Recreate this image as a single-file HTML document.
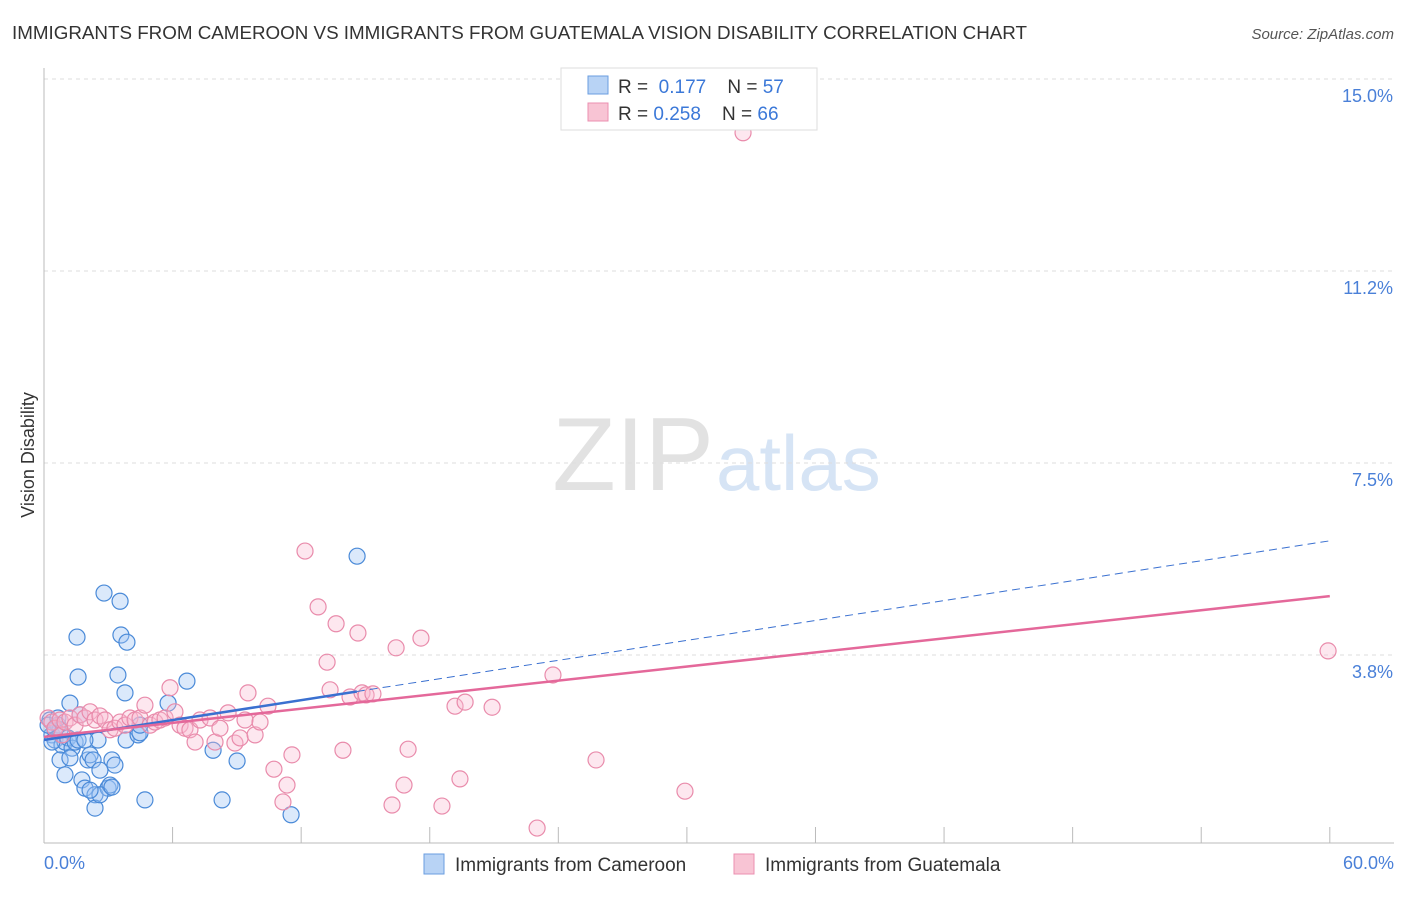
<!DOCTYPE html>
<html><head><meta charset="utf-8"><style>
body{margin:0;background:#fff;font-family:"Liberation Sans",sans-serif;}
svg text{font-family:"Liberation Sans",sans-serif;}
</style></head><body>
<svg width="1406" height="892" viewBox="0 0 1406 892">
<text x="12" y="39" font-size="18.8" fill="#333">IMMIGRANTS FROM CAMEROON VS IMMIGRANTS FROM GUATEMALA VISION DISABILITY CORRELATION CHART</text>
<text x="1394" y="39" font-size="15" fill="#555" font-style="italic" text-anchor="end">Source: ZipAtlas.com</text>
<text x="714" y="490" font-size="104" fill="#e2e2e2" text-anchor="end" font-family="Liberation Serif">ZIP</text>
<text x="716" y="490" font-size="78" fill="#d6e4f5">atlas</text>
<g id="grid"></g><g id="axes"></g><g id="marks"></g>
<text transform="translate(34,455) rotate(-90)" font-size="18" fill="#333" text-anchor="middle">Vision Disability</text>
<text x="44" y="869" font-size="18" fill="#4a80d8">0.0%</text>
<text x="1394" y="869" font-size="18" fill="#4a80d8" text-anchor="end">60.0%</text>
<g>
<rect x="561" y="68" width="256" height="62" fill="#fff" stroke="#ddd"/>
<rect x="588" y="76" width="20" height="18" fill="#b8d3f5" stroke="#6a9ee0"/>
<rect x="588" y="103" width="20" height="18" fill="#f8c4d4" stroke="#eb8fb0"/>
<text x="618" y="93" font-size="19" fill="#333">R = <tspan fill="#3b78d8">&#160;0.177</tspan>&#160;&#160;&#160; N = <tspan fill="#3b78d8">57</tspan></text>
<text x="618" y="120" font-size="19" fill="#333">R = <tspan fill="#3b78d8">0.258</tspan>&#160;&#160;&#160; N = <tspan fill="#3b78d8">66</tspan></text>
</g>
<g>
<rect x="424" y="854" width="20" height="20" fill="#b8d3f5" stroke="#6a9ee0"/>
<text x="455" y="871" font-size="19" fill="#333">Immigrants from Cameroon</text>
<rect x="734" y="854" width="20" height="20" fill="#f8c4d4" stroke="#eb8fb0"/>
<text x="765" y="871" font-size="19" fill="#333">Immigrants from Guatemala</text>
</g>
</svg>
<script>
const yTicks=[15.0,11.25,7.5,3.75];
const yTickLabels=["15.0%","11.2%","7.5%","3.8%"];
const xTicks=[0,6,12,18,24,30,36,42,48,54,60];
const blueX=[0.28,0.37,0.51,0.65,0.75,0.84,0.98,1.12,1.21,1.31,1.45,1.59,1.54,1.59,1.68,1.77,1.91,2.05,2.15,2.29,2.38,2.52,2.61,2.80,2.99,3.08,3.17,3.31,3.45,3.55,3.59,3.78,3.83,3.87,4.39,4.48,4.71,5.79,6.67,7.89,8.31,9.01,11.53,14.61,2.38,0.75,0.98,1.21,0.51,0.19,0.37,1.91,2.61,3.17,2.15,4.48,0.65];
const blueY=[2.48,2.19,2.09,2.38,2.29,1.99,2.05,2.13,2.81,1.93,2.05,2.09,4.10,3.32,2.58,1.31,1.15,1.70,1.80,1.70,1.02,2.09,1.50,4.96,1.15,1.21,1.70,1.60,3.36,4.80,4.14,3.01,2.09,4.00,2.19,2.23,0.92,2.81,3.24,1.89,0.92,1.68,0.63,5.68,0.76,1.70,1.41,1.74,2.29,2.38,2.05,2.09,1.02,1.17,1.11,2.38,2.52];
const pinkX=[0.19,0.37,0.51,0.75,0.84,0.98,1.21,1.45,1.68,1.91,2.15,2.38,2.61,2.85,3.08,3.31,3.55,3.78,4.01,4.25,4.48,4.71,4.95,5.18,5.41,5.65,5.88,6.11,6.35,6.58,6.81,7.05,7.28,7.75,7.98,8.21,8.59,8.91,9.15,9.38,9.52,9.85,10.08,10.45,10.73,11.15,11.34,11.57,12.18,12.79,13.21,13.35,13.63,13.95,14.28,14.65,14.84,15.03,15.35,16.24,16.43,16.80,16.99,17.59,18.57,19.18,19.41,19.65,20.91,23.01,23.75,25.76,29.91,32.62,59.92];
const pinkY=[2.52,2.44,2.32,2.48,2.19,2.44,2.52,2.38,2.58,2.52,2.64,2.48,2.56,2.48,2.29,2.32,2.44,2.38,2.52,2.48,2.52,2.77,2.38,2.44,2.48,2.52,3.11,2.64,2.38,2.32,2.29,2.05,2.48,2.52,2.05,2.32,2.62,2.03,2.13,2.48,3.01,2.19,2.44,2.75,1.52,0.88,1.21,1.80,5.78,4.69,3.61,3.07,4.36,1.89,2.93,4.18,3.01,2.97,2.99,0.82,3.89,1.21,1.91,4.08,0.80,2.75,1.33,2.83,2.73,0.37,3.36,1.70,1.09,13.95,3.83];
const blueTrend=[2.09,5.98];
const pinkTrend=[2.15,4.90];
const blueSolidEnd=14.6;
const NS="http://www.w3.org/2000/svg";
const xs=v=>44+v*21.43;
const ys=v=>847-v*51.2;
function mk(tag,attrs,parent){const e=document.createElementNS(NS,tag);for(const k in attrs)e.setAttribute(k,attrs[k]);parent.appendChild(e);return e;}
const grid=document.getElementById('grid'),axes=document.getElementById('axes'),marks=document.getElementById('marks');
yTicks.forEach((t,i)=>{
 const l=mk('line',{x1:44,x2:1394,y1:ys(t),y2:ys(t),stroke:'#ddd','stroke-dasharray':'4,4'},grid);
 
 
 const tx=mk('text',{x:1393,y:ys(t)+23,'font-size':18,fill:'#4a80d8','text-anchor':'end'},grid);
 tx.textContent=yTickLabels[i];
 
 
});
const ya=mk('line',{x1:44,x2:44,y1:68,y2:843,stroke:'#bbb'},axes);


const xa=mk('line',{x1:44,x2:1394,y1:843,y2:843,stroke:'#bbb'},axes);


xTicks.forEach(t=>{
 const l=mk('line',{x1:xs(t),x2:xs(t),y1:827,y2:843,stroke:'#bbb'},axes);
 
 
});
blueX.forEach((x,i)=>{
 const c=mk('circle',{cx:xs(x),cy:ys(blueY[i]),r:8,fill:'rgba(160,198,245,0.38)',stroke:'#4a8ad8','stroke-width':1.2},marks);
 
 
});
pinkX.forEach((x,i)=>{
 const c=mk('circle',{cx:xs(x),cy:ys(pinkY[i]),r:8,fill:'rgba(248,185,208,0.35)',stroke:'#e98bab','stroke-width':1.2},marks);
 
 
});
const bAt=v=>blueTrend[0]+(blueTrend[1]-blueTrend[0])*v/60;
const bs=mk('line',{x1:xs(0),y1:ys(bAt(0)),x2:xs(blueSolidEnd),y2:ys(bAt(blueSolidEnd)),stroke:'#3a70d0','stroke-width':2.5},marks);


const bd=mk('line',{x1:xs(blueSolidEnd),y1:ys(bAt(blueSolidEnd)),x2:xs(60),y2:ys(bAt(60)),stroke:'#3a70d0','stroke-width':1,'stroke-dasharray':'8,5'},marks);


const pt=mk('line',{x1:xs(0),y1:ys(pinkTrend[0]),x2:xs(60),y2:ys(pinkTrend[1]),stroke:'#e4689a','stroke-width':2.5},marks);


</script>
</body></html>
